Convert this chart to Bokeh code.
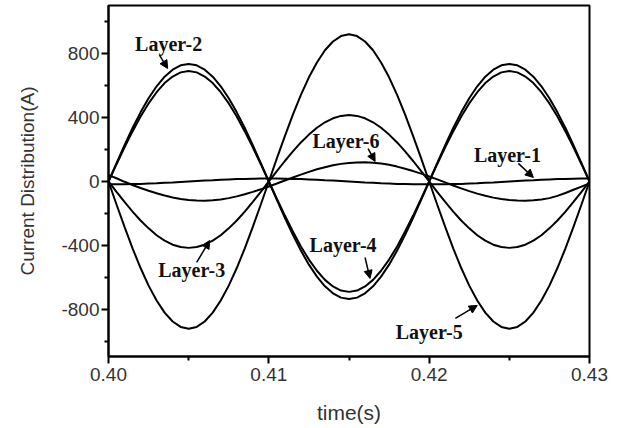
from bokeh.plotting import figure
from bokeh.embed import file_html
from bokeh.resources import INLINE
from bokeh.models import FixedTicker, Arrow, NormalHead, ColumnDataSource, Range1d
from bokeh.core.properties import value

# ---------------- data ----------------
time_s = [0.4000, 0.4005, 0.4010, 0.4015, 0.4020, 0.4025, 0.4030, 0.4035, 0.4040, 0.4045,
          0.4050, 0.4055, 0.4060, 0.4065, 0.4070, 0.4075, 0.4080, 0.4085, 0.4090, 0.4095,
          0.4100, 0.4105, 0.4110, 0.4115, 0.4120, 0.4125, 0.4130, 0.4135, 0.4140, 0.4145,
          0.4150, 0.4155, 0.4160, 0.4165, 0.4170, 0.4175, 0.4180, 0.4185, 0.4190, 0.4195,
          0.4200, 0.4205, 0.4210, 0.4215, 0.4220, 0.4225, 0.4230, 0.4235, 0.4240, 0.4245,
          0.4250, 0.4255, 0.4260, 0.4265, 0.4270, 0.4275, 0.4280, 0.4285, 0.4290, 0.4295,
          0.4300]

layer_1 = [-18, -18, -17, -16, -15, -13, -11, -8, -6, -3,
           0, 3, 6, 8, 11, 13, 15, 16, 17, 18,
           18, 18, 17, 16, 15, 13, 11, 8, 6, 3,
           0, -3, -6, -8, -11, -13, -15, -16, -17, -18,
           -18, -18, -17, -16, -15, -13, -11, -8, -6, -3,
           0, 3, 6, 8, 11, 13, 15, 16, 17, 18,
           18]

layer_2 = [0, 115, 227, 334, 432, 520, 595, 655, 699, 726,
           735, 726, 699, 655, 595, 520, 432, 334, 227, 115,
           0, -115, -227, -334, -432, -520, -595, -655, -699, -726,
           -735, -726, -699, -655, -595, -520, -432, -334, -227, -115,
           0, 115, 227, 334, 432, 520, 595, 655, 699, 726,
           735, 726, 699, 655, 595, 520, 432, 334, 227, 115,
           0]

layer_3 = [0, -65, -128, -188, -244, -293, -336, -370, -395, -410,
           -415, -410, -395, -370, -336, -293, -244, -188, -128, -65,
           0, 65, 128, 188, 244, 293, 336, 370, 395, 410,
           415, 410, 395, 370, 336, 293, 244, 188, 128, 65,
           0, -65, -128, -188, -244, -293, -336, -370, -395, -410,
           -415, -410, -395, -370, -336, -293, -244, -188, -128, -65,
           0]

layer_4 = [0, 108, 213, 313, 406, 488, 558, 615, 656, 682,
           690, 682, 656, 615, 558, 488, 406, 313, 213, 108,
           0, -108, -213, -313, -406, -488, -558, -615, -656, -682,
           -690, -682, -656, -615, -558, -488, -406, -313, -213, -108,
           0, 108, 213, 313, 406, 488, 558, 615, 656, 682,
           690, 682, 656, 615, 558, 488, 406, 313, 213, 108,
           0]

layer_5 = [0, -144, -284, -418, -541, -651, -744, -820, -875, -909,
           -920, -909, -875, -820, -744, -651, -541, -418, -284, -144,
           0, 144, 284, 418, 541, 651, 744, 820, 875, 909,
           920, 909, 875, 820, 744, 651, 541, 418, 284, 144,
           0, -144, -284, -418, -541, -651, -744, -820, -875, -909,
           -920, -909, -875, -820, -744, -651, -541, -418, -284, -144,
           0]

layer_6 = [40, 20, -2, -22, -41, -58, -74, -88, -100, -109,
           -116, -119, -120, -117, -112, -104, -93, -80, -65, -49,
           -31, -13, 6, 25, 43, 60, 76, 89, 101, 110,
           116, 119, 120, 117, 112, 104, 93, 80, 65, 49,
           31, 13, -6, -25, -43, -60, -76, -89, -101, -110,
           -116, -119, -120, -117, -112, -104, -90, -72, -52, -32,
           -12]

series = [layer_1, layer_2, layer_3, layer_4, layer_5, layer_6]

x_ticks = [0.40, 0.41, 0.42, 0.43]
x_tick_labels = ["0.40", "0.41", "0.42", "0.43"]
x_minor = [0.405, 0.415, 0.425]
y_ticks = [-800, -400, 0, 400, 800]
y_tick_labels = ["-800", "-400", "0", "400", "800"]
y_minor = [-1000, -600, -200, 200, 600, 1000]

label_names = ["Layer-1", "Layer-2", "Layer-3", "Layer-4", "Layer-5", "Layer-6"]

# annotation placement (data coordinates)
label_x = [0.42488, 0.40375, 0.40519, 0.41463, 0.42000, 0.41481]
label_y = [163, 862, -556, -400, -938, 256]
arrow_from = [(0.42556, 113), (0.40319, 788), (0.40550, -506), (0.41600, -475), (0.42163, -856), (0.41619, 206)]
arrow_to = [(0.42650, 25), (0.40369, 706), (0.40631, -369), (0.41631, -606), (0.42300, -775), (0.41663, 125)]

# ---------------- figure ----------------
p = figure(frame_width=481, frame_height=351,
           min_border_left=108, min_border_right=30, min_border_top=5, min_border_bottom=70,
           x_range=Range1d(0.40, 0.43), y_range=Range1d(-1094, 1100),
           output_backend="svg", toolbar_location=None,
           background_fill_color="white", border_fill_color="white")

p.xgrid.visible = False
p.ygrid.visible = False
p.outline_line_color = "black"
p.outline_line_width = 2
p.outline_line_alpha = 1.0

for s in series:
    p.line(time_s, s, line_color="black", line_width=2)

# axes
p.xaxis.ticker = FixedTicker(ticks=x_ticks, minor_ticks=x_minor)
p.yaxis.ticker = FixedTicker(ticks=y_ticks, minor_ticks=y_minor)
p.xaxis.major_label_overrides = dict(zip(x_ticks, x_tick_labels))
p.yaxis.major_label_overrides = dict(zip(y_ticks, y_tick_labels))

for ax in (p.xaxis[0], p.yaxis[0]):
    ax.axis_line_color = "black"
    ax.axis_line_width = 2
    ax.major_tick_line_color = "black"
    ax.major_tick_line_width = 2
    ax.minor_tick_line_color = "black"
    ax.minor_tick_line_width = 2
    ax.major_tick_in = 0
    ax.major_tick_out = 7
    ax.minor_tick_in = 0
    ax.minor_tick_out = 4
    ax.major_label_text_font = "Liberation Sans"
    ax.major_label_text_font_size = "19px"
    ax.major_label_text_color = "#333333"
    ax.axis_label_text_font = "Liberation Sans"
    ax.axis_label_text_font_style = "normal"
    ax.axis_label_text_color = "#333333"

p.xaxis.axis_label = "time(s)"
p.yaxis.axis_label = "Current Distribution(A)"
p.xaxis.axis_label_text_font_size = "21px"
p.yaxis.axis_label_text_font_size = "19px"
p.xaxis.major_label_standoff = 4
p.yaxis.major_label_standoff = 2
p.xaxis.axis_label_standoff = 17
p.yaxis.axis_label_standoff = 20

# labels
src = ColumnDataSource(dict(x=label_x, y=label_y, t=label_names))
p.text(x="x", y="y", text="t", source=src, text_font=value("Liberation Serif"),
       text_font_style="bold", text_font_size="20px", text_color="#111111",
       text_align="center", text_baseline="middle")

for (x0, y0), (x1, y1) in zip(arrow_from, arrow_to):
    p.add_layout(Arrow(end=NormalHead(size=8, fill_color="black", line_color="black", line_width=1),
                       x_start=x0, y_start=y0, x_end=x1, y_end=y1,
                       line_color="black", line_width=1.5))

open("out.html", "w").write(file_html(p, INLINE))
